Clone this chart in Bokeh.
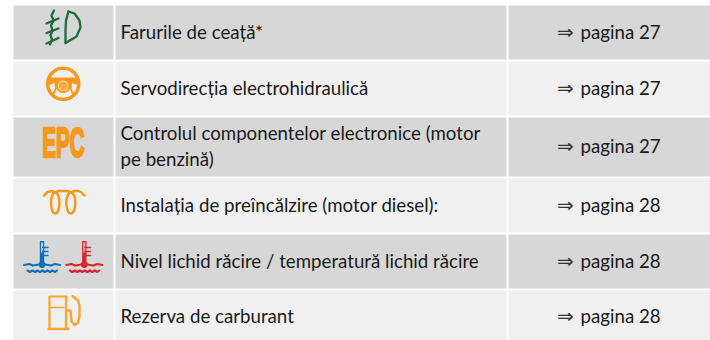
import numpy as np
from bokeh.plotting import figure
from bokeh.models import Range1d
from bokeh.core.properties import value
from bokeh.embed import file_html
from bokeh.resources import INLINE

labels = ["Farurile de ceață*", "Servodirecția electrohidraulică",
          "Controlul componentelor electronice (motor\npe benzină)",
          "Instalația de preîncălzire (motor diesel):",
          "Nivel lichid răcire / temperatură lichid răcire",
          "Rezerva de carburant"]
pages = ["pagina 27", "pagina 27", "pagina 27", "pagina 28", "pagina 28", "pagina 28"]
row_top = [5, 61, 117, 178, 234, 290]
row_bot = [59, 115, 176, 232, 288, 340]
col_left = [13, 115, 508]
col_right = [113, 506, 710]
row_fill = ["#d7d7d7", "#f0f0f0", "#d7d7d7", "#f0f0f0", "#d7d7d7", "#f0f0f0"]

GREEN, ORANGE, BLUE, RED = "#1f6b3c", "#f8991d", "#0d6fb5", "#d9252f"
FONT = "Lato"
BG = "#f0f0f0"

p = figure(width=710, height=340, output_backend="svg", toolbar_location=None,
           x_range=Range1d(0, 710), y_range=Range1d(340, 0), min_border=0,
           outline_line_color=None, background_fill_color="white", border_fill_color="white")
p.axis.visible = False
p.grid.visible = False

for l, r in zip(col_left, col_right):
    p.quad(left=[l]*6, right=[r]*6, top=row_top, bottom=row_bot, fill_color=row_fill, line_color=None)

mids = [(a+b)/2 for a, b in zip(row_top, row_bot)]
mids[-1] = 316
p.text(x=[120]*6, y=[m-1 for m in mids], text=labels, text_font=value(FONT), text_font_size="18.7px",
       text_color="#1a1a1a", text_baseline="middle", text_line_height=1.2)
p.text(x=[580]*6, y=[m-1 for m in mids], text=pages, text_font=value(FONT), text_font_size="18.7px",
       text_color="#1a1a1a", text_baseline="middle")
p.text(x=[565]*6, y=[m-1 for m in mids], text=["⇒"]*6, text_font=value("DejaVu Sans"), text_font_size="20px",
       text_color="#333333", text_baseline="middle", text_align="center")

# fog lamp
p.multi_line([[68, 74, 79, 80, 76, 65], [53.5, 51, 53, 50.5, 52, 50, 51.5, 49.5],
              [46, 58], [46, 58], [46, 58]],
             [[11, 13, 20, 27, 36, 42.5], [10, 15, 20, 25, 30, 35, 39, 44],
              [23, 18], [32.5, 28], [43, 37.5]],
             line_color=GREEN, line_width=2.3, line_cap="round", line_join="round")
p.line([68, 65.5, 65, 65], [11, 20, 30, 42.5], line_color=GREEN, line_width=2.3, line_cap="round")

# steering wheel
def circle(cx, cy, r, a0=0, a1=360, n=40):
    t = np.radians(np.linspace(a0, a1, n))
    return cx + r*np.cos(t), cy + r*np.sin(t)

cx, cy = 62.7, 83.3
p.patch(*circle(cx, cy, 17.3), fill_color=ORANGE, line_color=None)
wx, wy = circle(cx, cy, 13.9, 207, 333)
p.patch(wx, wy, fill_color=BG, line_color=None)
wx, wy = circle(cx, cy, 13.9, 140, 175, 10)
p.patch(list(wx)+[54, 54.5], list(wy)+[82.5, 88.5], fill_color=BG, line_color=None)
wx, wy = circle(cx, cy, 13.9, 5, 40, 10)
p.patch(list(wx)+[71, 71.5], list(wy)+[88.5, 82.5], fill_color=BG, line_color=None)
ox, oy = circle(cx, cy, 13.9, 50, 130, 14)
ix, iy = circle(cx, 85.3, 7.3, 155, 25, 14)
p.patch(list(ox)+list(ix), list(oy)+list(iy), fill_color=BG, line_color=None)
p.patch(*circle(cx, 85.3, 4.8), fill_color="#fba93e", line_color="#fbd9ab", line_width=1.1)

# EPC
p.text(x=[63], y=[141.5], text=["EPC"], text_font=value("Liberation Sans"), text_font_style="bold",
       text_font_size="43px", text_color="#f7981d", text_align="center", text_baseline="middle")

# glow coil
p.ellipse(x=[54.7, 70.3], y=[202.5, 202.5], width=[8.5, 9], height=[21, 21], fill_color=None,
          line_color=ORANGE, line_width=2.5)
p.multi_line([[43.5, 47, 51, 54.7], [54.7, 58, 62.5, 67, 70.3], [70.3, 74, 78, 81, 83.7]],
             [[195, 191.5, 190.5, 192], [192, 190.5, 190.5, 190.5, 192], [192, 190.5, 190.5, 192, 195]],
             line_color=ORANGE, line_width=2.5, line_cap="round", line_join="round")

# coolant thermometers
for off, c in [(0, BLUE), (42.3, RED)]:
    x0 = 41.5+off
    p.quad(left=[x0-2.2], right=[x0+2.2], top=[240.5], bottom=[262], fill_color=c, line_color=None)
    p.quad(left=[x0-1], right=[x0+1], top=[242], bottom=[252], fill_color="#bcc9d4" if off == 0 else "#e6b7b7", line_color=None)
    p.multi_line([[x0, x0+6.5]]*3, [[247, 247], [251, 251], [255, 255]], line_color=c, line_width=1.7)
    p.patch(*circle(x0, 264, 3.5), fill_color=c, line_color=None)
    p.multi_line([[x0-18, x0-13, x0-9, x0-3], [x0+3, x0+9, x0+13, x0+18],
                  [x0-14.5, x0-12, x0-9.5, x0-7, x0-4.5, x0-2, x0+0.5, x0+3, x0+5.5, x0+8, x0+10.5, x0+13, x0+15]],
                 [[264.5, 263.5, 265, 264], [264, 265, 263.5, 264.5],
                  [270, 271.5, 270, 271.5, 270, 271.5, 270, 271.5, 270, 271.5, 270, 271.5, 270]],
                 line_color=c, line_width=2.1, line_cap="round", line_join="round")

# fuel pump
AMB = "#f9a330"
p.line([49, 49, 65.5, 65.5], [329, 296, 296, 329], line_color=AMB, line_width=2.2, line_join="round")
p.line([47, 69], [328.5, 328.5], line_color=AMB, line_width=2.6)
p.line([50, 64], [307, 307], line_color=AMB, line_width=1.4)
p.line([66, 70, 70.5, 71, 74, 77.5, 79, 79, 77.5, 72], [310, 310, 315, 321, 324.5, 322, 316, 305, 300, 295.5],
       line_color=AMB, line_width=2.4, line_join="round", line_cap="round")

squeeze = """<script>
function walk(root){
  for (const el of root.querySelectorAll('*')) {
    if (el.shadowRoot) walk(el.shadowRoot);
    if (el.tagName.toLowerCase()==='text' && el.textContent==='EPC' && !el.getAttribute('data-sq')) {
      el.setAttribute('data-sq','1');
      const b=el.getBBox();
      const cx=b.x+b.width/2;
      const t=el.getAttribute('transform')||'';
      el.setAttribute('transform', t+' translate('+cx+',0) scale(0.48,1) translate('+(-cx)+',0)');
      el.setAttribute('stroke','#f7981d');
      el.setAttribute('stroke-width','2.5');
    }
  }
}
setInterval(()=>walk(document),50);
</script></body>"""
html = file_html(p, INLINE).replace("</body>", squeeze)
open("out.html", "w").write(html)
